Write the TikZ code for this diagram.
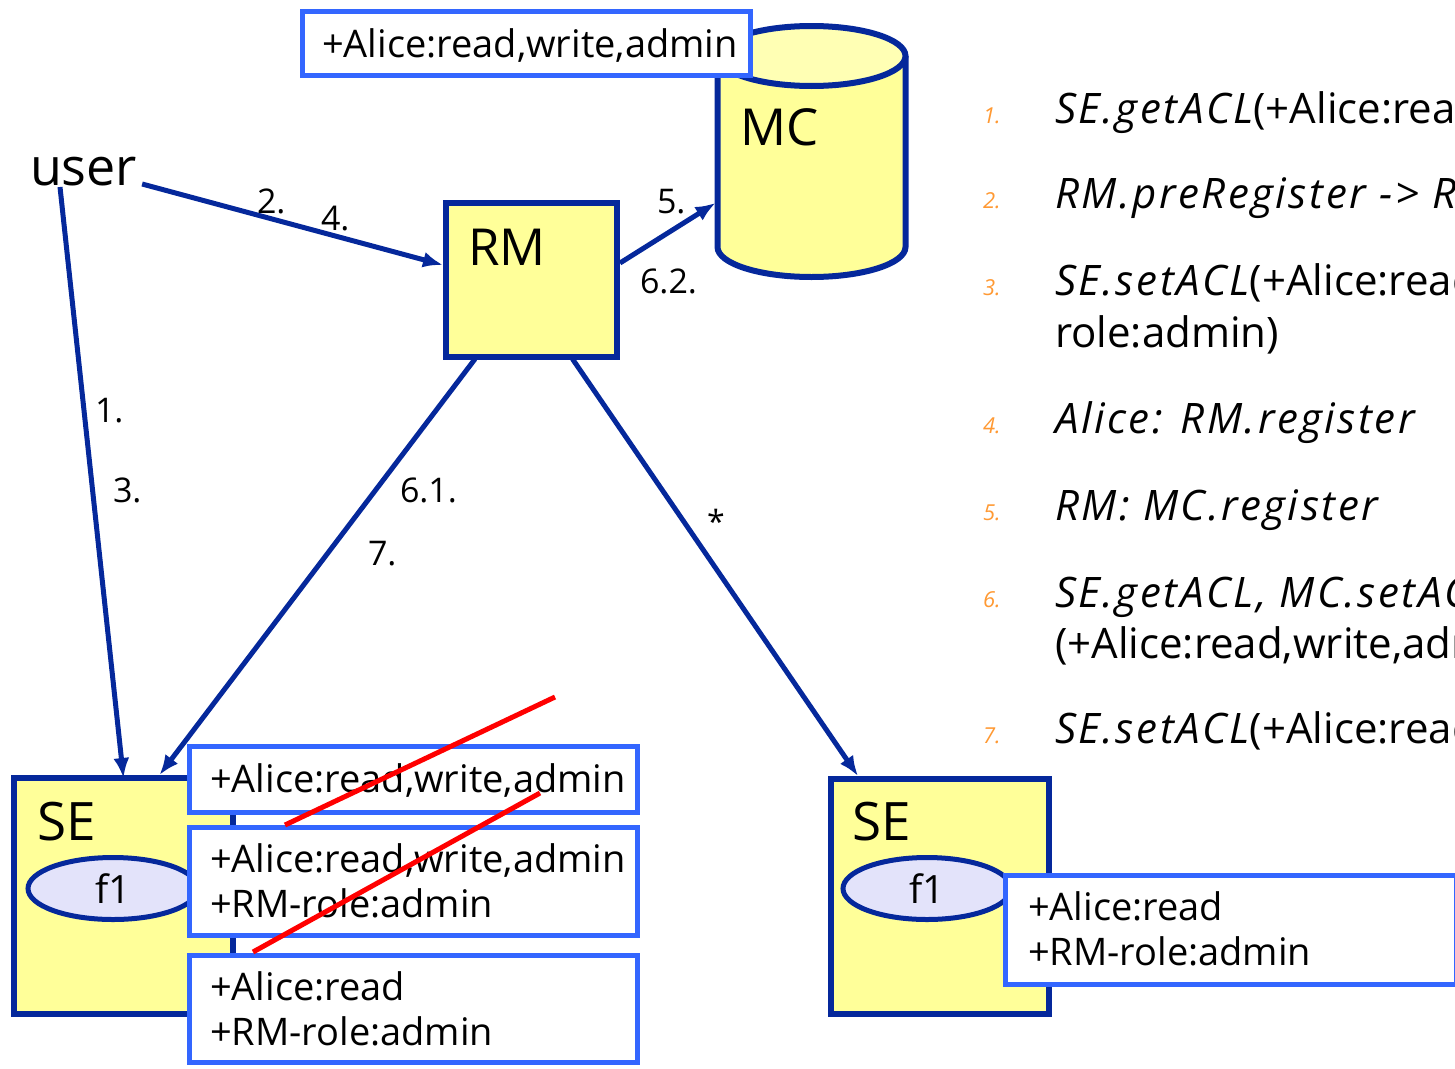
\documentclass[tikz,border=0pt]{standalone}
\usepackage{fontspec}
\setmainfont{Open Sans}
\usetikzlibrary{arrows.meta,calc,shapes.geometric}

\definecolor{edgeblue}{RGB}{5,40,155}
\definecolor{aclblue}{RGB}{51,102,255}
\definecolor{unityellow}{RGB}{255,255,153}
\definecolor{topyellow}{RGB}{255,255,180}
\definecolor{filelav}{RGB}{227,227,250}
\definecolor{numorange}{RGB}{255,153,51}
\definecolor{strikered}{RGB}{255,0,0}

% operation names in the step list: slanted and slightly tracked
\newcommand{\opname}[1]{{\itshape\addfontfeature{LetterSpace=6}#1}}

\begin{document}
\begin{tikzpicture}[x=1pt,y=-1pt,
  every node/.style={inner sep=0pt,outer sep=0pt},
  unitbox/.style={draw=edgeblue,line width=6pt,fill=unityellow,rectangle},
  aclbox/.style={draw=aclblue,line width=5pt,fill=white,rectangle},
  filenode/.style={draw=edgeblue,line width=5pt,fill=filelav,ellipse,
    font=\fontsize{39}{46}\selectfont},
  bigtext/.style={anchor=base west,font=\fontsize{51}{60}\selectfont},
  acltext/.style={anchor=base west,font=\fontsize{38}{45}\selectfont},
  steplabel/.style={anchor=base west,font=\fontsize{34}{40}\selectfont},
  conn/.style={draw=edgeblue,line width=5pt,-{Latex[length=20pt,width=16pt]}},
  listnum/.style={anchor=base west,text=numorange,font=\fontsize{22}{26}\selectfont\itshape},
  listtext/.style={anchor=base west,font=\fontsize{42}{50}\selectfont},
  strike/.style={draw=strikered,line width=5pt}]

\useasboundingbox (0,0) rectangle (1455,1068);
\clip (0,0) rectangle (1455,1068);

% ---- catalogue (MC) drawn as a cylinder ----
\node[minimum width=188,minimum height=191] (mc) at (811.5,151.5) {};
\fill[unityellow] (mc.north west) -- (mc.south west)
  arc[start angle=180,end angle=360,x radius=94pt,y radius=30pt]
  -- (mc.north east)
  arc[start angle=0,end angle=180,x radius=94pt,y radius=30pt] -- cycle;
\draw[edgeblue,line width=6pt] (mc.north west) -- (mc.south west)
  arc[start angle=180,end angle=360,x radius=94pt,y radius=30pt]
  -- (mc.north east);
\draw[edgeblue,line width=6pt,fill=topyellow] (mc.north)
  ellipse[x radius=94pt,y radius=30pt];
\node[bigtext] (mclabel) at (740,145) {MC};

% ---- ACL held by the catalogue ----
\node[aclbox,minimum width=448,minimum height=64] (acltop) at (526.5,43.5) {};
\node[acltext] (acltoptext) at (322,57) {+Alice:read,write,admin};

% ---- registration manager ----
\node[unitbox,minimum width=171,minimum height=154] (rm) at (531.5,280) {};
\node[bigtext] (rmlabel) at (468,265) {RM};

% ---- user ----
\node[bigtext,font=\fontsize{52}{60}\selectfont] (user) at (30,185) {user};

% ---- storage elements ----
\node[unitbox,minimum width=219,minimum height=236] (seL) at (123.5,896) {};
\node[bigtext,font=\fontsize{53}{62}\selectfont] (seLlabel) at (37,840) {SE};
\node[filenode,minimum width=170,minimum height=62] (fL) at (113,888.5) {f1};

\node[unitbox,minimum width=218,minimum height=235] (seR) at (940,896.5) {};
\node[bigtext,font=\fontsize{53}{62}\selectfont] (seRlabel) at (852,840) {SE};
\node[filenode,minimum width=168,minimum height=62] (fR) at (927,888.5) {f1};

% ---- ACL history of the left file ----
\node[aclbox,minimum width=448,minimum height=66] (aclA) at (413.5,779.5) {};
\node[acltext] (aclAa) at (210,792) {+Alice:read,write,admin};
\node[aclbox,minimum width=448,minimum height=108] (aclB) at (413.5,881.5) {};
\node[acltext] (aclBa) at (210,872) {+Alice:read,write,admin};
\node[acltext] (aclBb) at (210,917) {+RM-role:admin};
\node[aclbox,minimum width=448,minimum height=107] (aclC) at (413.5,1009) {};
\node[acltext] (aclCa) at (210,1000) {+Alice:read};
\node[acltext] (aclCb) at (210,1045) {+RM-role:admin};

% ---- ACL of the replica ----
\node[aclbox,minimum width=451,minimum height=109] (aclR) at (1231,930) {};
\node[acltext] (aclRa) at (1028,920) {+Alice:read};
\node[acltext] (aclRb) at (1028,965) {+RM-role:admin};

% ---- superseded ACLs struck out ----
\coordinate (s1a) at (285,825);
\coordinate (s1b) at (555,697);
\coordinate (s2a) at (253,952);
\coordinate (s2b) at (540,793);
\draw[strike] (s1a) -- (s1b);
\draw[strike] (s2a) -- (s2b);

% ---- interactions ----
\draw[conn] ($(user.base west)+(30,2)$) -- (seL.north);
\draw[conn] ($(user.base east)+(5,-1)$) -- ($(rm.west)+(-3,-15)$);
\draw[conn] ($(rm.east)+(3,-17)$) -- ($(mc.west)+(-2,51.5)$);
\draw[conn] ($(rm.south west)+(29,2)$) -- ($(seL.north)+(36,-3)$);
\draw[conn] ($(rm.south)+(41,2)$) -- ($(seR.north west)+(27,-3)$);

\node[steplabel] (l1) at (95,422) {1.};
\node[steplabel] (l3) at (113,502) {3.};
\node[steplabel] (l2) at (257,213) {2.};
\node[steplabel] (l4) at (321,230) {4.};
\node[steplabel] (l5) at (657,213) {5.};
\node[steplabel] (l62) at (640,293) {6.2.};
\node[steplabel] (l61) at (400,502) {6.1.};
\node[steplabel] (l7) at (368,565) {7.};
\node[font=\fontsize{32}{40}\selectfont] (lstar) at (716,521) {*};

% ---- sequence of operations ----
\node[listnum] (n1) at (983,123) {1.};
\node[listtext] (t1) at (1055,123) {\opname{SE.getACL}(+Alice:read)};
\node[listnum] (n2) at (983,208) {2.};
\node[listtext] (t2) at (1055,208) {\opname{RM.preRegister -> RM-role}};
\node[listnum] (n3) at (983,295) {3.};
\node[listtext] (t3) at (1055,295) {\opname{SE.setACL}(+Alice:read,write,admin +RM-};
\node[listtext] (t3b) at (1055,347) {role:admin)};
\node[listnum] (n4) at (983,433) {4.};
\node[listtext] (t4) at (1055,433) {\opname{Alice: RM.register}};
\node[listnum] (n5) at (983,520) {5.};
\node[listtext] (t5) at (1055,520) {\opname{RM: MC.register}};
\node[listnum] (n6) at (983,607) {6.};
\node[listtext] (t6) at (1055,607) {\opname{SE.getACL, MC.setACL}};
\node[listtext] (t6b) at (1055,658) {(+Alice:read,write,admin)};
\node[listnum] (n7) at (983,743) {7.};
\node[listtext] (t7) at (1055,743) {\opname{SE.setACL}(+Alice:read)};
\end{tikzpicture}
\end{document}
